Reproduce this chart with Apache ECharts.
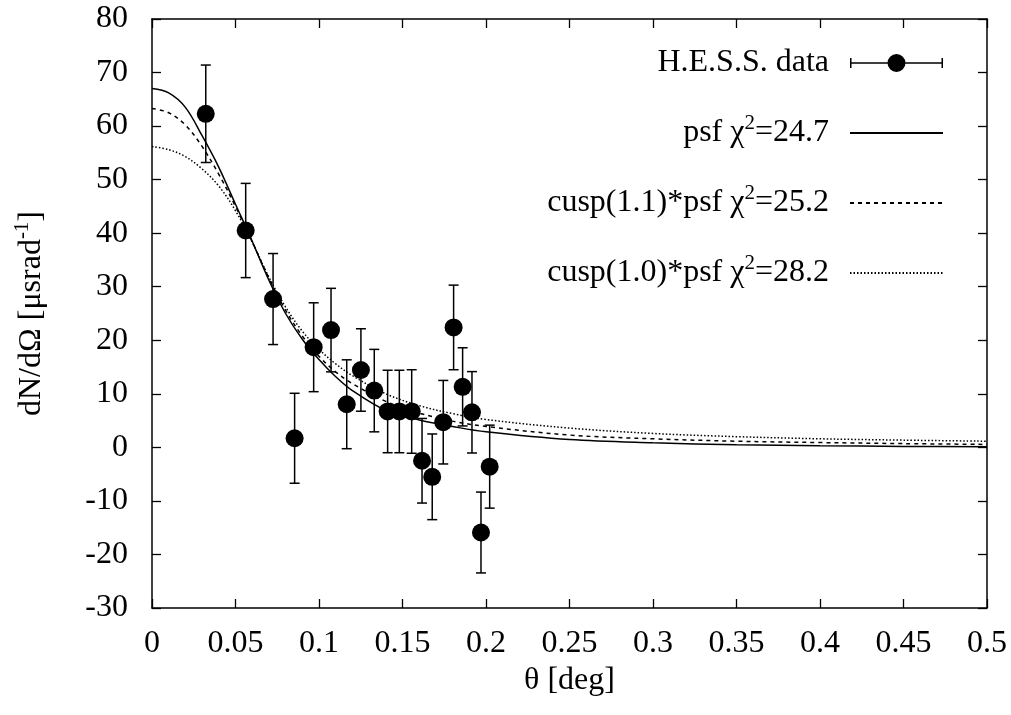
<!DOCTYPE html>
<html>
<head>
<meta charset="utf-8">
<script src="https://cdn.jsdelivr.net/npm/echarts@6/dist/echarts.min.js"></script>
<style>
  html, body { margin: 0; padding: 0; background: #fff; }
  #chart { width: 1011px; height: 715px; }
</style>
</head>
<body>
<div id="chart"></div>
<script>
// ---- data ----
const thetaData = [0.0322, 0.0561, 0.0725, 0.0854, 0.0968, 0.1072, 0.1166, 0.1251, 0.1331, 0.1411,
                   0.1481, 0.1555, 0.1617, 0.1678, 0.1744, 0.1806, 0.1860, 0.1916, 0.1970, 0.2022];
const countData = [62.3, 40.5, 27.7, 1.7, 18.7, 21.9, 8.05, 14.45, 10.6, 6.7,
                   6.7, 6.7, -2.5, -5.5, 4.7, 22.4, 11.3, 6.55, -15.9, -3.6];
const errData   = [9.1, 8.8, 8.5, 8.4, 8.3, 7.8, 8.3, 7.7, 7.7, 7.7,
                   7.7, 7.8, 7.9, 8.0, 7.8, 7.9, 7.3, 7.6, 7.55, 7.75];

const curveTheta = [0, 0.01, 0.02, 0.03, 0.04, 0.05, 0.06, 0.07, 0.08, 0.09, 0.10, 0.11, 0.12,
                    0.14, 0.16, 0.18, 0.20, 0.25, 0.30, 0.35, 0.40, 0.45, 0.50];
const psfCurve    = [67.0, 66.2, 63.5, 58.2, 52.3, 45.4, 38.5, 31.2, 25.0, 20.2, 16.4, 13.2, 10.6,
                     6.9, 5.1, 3.9, 2.9, 1.45, 0.85, 0.5, 0.3, 0.18, 0.1];
const cusp11Curve = [63.3, 62.5, 60.2, 56.2, 51.0, 45.0, 38.4, 31.6, 25.6, 20.8, 17.0, 14.1, 11.9,
                     8.6, 6.4, 4.9, 3.9, 2.3, 1.6, 1.15, 0.9, 0.7, 0.55];
const cusp10Curve = [56.2, 55.6, 54.3, 52.0, 48.8, 44.2, 38.3, 31.8, 26.2, 21.7, 18.3, 15.6, 13.4,
                     10.0, 7.8, 6.3, 5.2, 3.6, 2.6, 2.0, 1.6, 1.35, 1.15];

const seriesNames = ['H.E.S.S. data', 'psf', 'cusp(1.1)*psf', 'cusp(1.0)*psf'];
const chiValues   = [null, '24.7', '25.2', '28.2'];

const xTicks = { min: 0, max: 0.5, interval: 0.05 };
const yTicks = { min: -30, max: 80, interval: 10 };

// ---- build ----
const FONT = 'Liberation Serif';
const BLACK = '#000';
const pointData = thetaData.map((t, i) => [t, countData[i]]);
const errorData = thetaData.map((t, i) => [t, countData[i], errData[i]]);
const zip = (xs, ys) => xs.map((x, i) => [x, ys[i]]);

const chart = echarts.init(document.getElementById('chart'), null, { renderer: 'canvas' });

const axisCommon = {
  type: 'value',
  axisLine: { show: true, onZero: false, lineStyle: { color: BLACK, width: 1.5 } },
  axisTick: { show: true, inside: true, length: 9, lineStyle: { color: BLACK, width: 1.3 } },
  splitLine: { show: false },
};
const labelStyle = { fontFamily: FONT, fontSize: 32, color: BLACK };

const fmt = v => String(+v.toFixed(2));

const option = {
  backgroundColor: '#fff',
  animation: false,
  grid: { left: 152, right: 24, top: 19, bottom: 107, containLabel: false },
  xAxis: [
    Object.assign({}, axisCommon, {
      position: 'bottom', min: xTicks.min, max: xTicks.max, interval: xTicks.interval,
      axisLabel: Object.assign({ margin: 20, formatter: fmt }, labelStyle),
      name: 'θ [deg]', nameLocation: 'middle', nameGap: 56,
      nameTextStyle: { fontFamily: FONT, fontSize: 32, color: BLACK, lineHeight: 32 }
    }),
    Object.assign({}, axisCommon, {
      position: 'top', min: xTicks.min, max: xTicks.max, interval: xTicks.interval,
      axisLabel: { show: false }
    })
  ],
  yAxis: [
    Object.assign({}, axisCommon, {
      position: 'left', min: yTicks.min, max: yTicks.max, interval: yTicks.interval,
      axisLabel: Object.assign({ margin: 24, formatter: fmt }, labelStyle),
      name: 'dN/dΩ [μsrad{s|-1}]', nameLocation: 'middle', nameGap: 100, nameRotate: 90,
      nameTextStyle: {
        fontFamily: FONT, fontSize: 32, color: BLACK, lineHeight: 40,
        rich: { s: { fontFamily: FONT, fontSize: 21, color: BLACK, lineHeight: 16, verticalAlign: 'top' } }
      }
    }),
    Object.assign({}, axisCommon, {
      position: 'right', min: yTicks.min, max: yTicks.max, interval: yTicks.interval,
      axisLabel: { show: false }
    })
  ],
  legend: {
    orient: 'vertical',
    align: 'right',
    right: 67,
    top: 43,
    padding: 0,
    itemWidth: 93,
    itemHeight: 18,
    itemGap: 30,
    selectedMode: false,
    textStyle: {
      fontFamily: FONT, fontSize: 32, color: BLACK, lineHeight: 40, padding: [0, 16, 0, 0],
      rich: { s: { fontFamily: FONT, fontSize: 21, color: BLACK, lineHeight: 16, verticalAlign: 'top' } }
    },
    formatter: function (name) {
      const i = seriesNames.indexOf(name);
      if (chiValues[i] == null) return name;
      return name + ' χ{s|2}=' + chiValues[i];
    },
    data: [
      { name: seriesNames[0],
        itemStyle: { color: BLACK, opacity: 1 },
        icon: 'path://M0,8.25L93,8.25L93,9.75L0,9.75Z M0,4L1.5,4L1.5,14L0,14Z M91.5,4L93,4L93,14L91.5,14Z M37.5,9A9,9 0 1 1 55.5,9A9,9 0 1 1 37.5,9Z' },
      { name: seriesNames[1], itemStyle: { opacity: 0 } },
      { name: seriesNames[2], itemStyle: { opacity: 0 } },
      { name: seriesNames[3], itemStyle: { opacity: 0 } }
    ]
  },
  series: [
    {
      name: seriesNames[0] + ' errors',
      type: 'custom',
      xAxisIndex: 0, yAxisIndex: 0,
      data: errorData,
      z: 3,
      renderItem: function (params, api) {
        const x = api.value(0), y = api.value(1), e = api.value(2);
        const top = api.coord([x, y + e]);
        const bot = api.coord([x, y - e]);
        const cap = 5;
        const style = { stroke: BLACK, lineWidth: 1.5 };
        return {
          type: 'group',
          children: [
            { type: 'line', shape: { x1: top[0], y1: top[1], x2: bot[0], y2: bot[1] }, style },
            { type: 'line', shape: { x1: top[0] - cap, y1: top[1], x2: top[0] + cap, y2: top[1] }, style },
            { type: 'line', shape: { x1: bot[0] - cap, y1: bot[1], x2: bot[0] + cap, y2: bot[1] }, style }
          ]
        };
      }
    },
    {
      name: seriesNames[0],
      type: 'scatter',
      xAxisIndex: 0, yAxisIndex: 0,
      data: pointData,
      symbol: 'circle',
      symbolSize: 18,
      itemStyle: { color: BLACK, opacity: 1 },
      z: 4
    },
    {
      name: seriesNames[1],
      type: 'line',
      data: zip(curveTheta, psfCurve),
      symbol: 'none', smooth: 0.35,
      lineStyle: { color: BLACK, width: 1.5, type: 'solid' },
      itemStyle: { color: BLACK },
      z: 2
    },
    {
      name: seriesNames[2],
      type: 'line',
      data: zip(curveTheta, cusp11Curve),
      symbol: 'none', smooth: 0.35,
      lineStyle: { color: BLACK, width: 1.5, type: [4, 4] },
      itemStyle: { color: BLACK },
      z: 2
    },
    {
      name: seriesNames[3],
      type: 'line',
      data: zip(curveTheta, cusp10Curve),
      symbol: 'none', smooth: 0.35,
      lineStyle: { color: BLACK, width: 1.5, type: [1.5, 2] },
      itemStyle: { color: BLACK },
      z: 2
    }
  ]
};
chart.setOption(option);
</script>
</body>
</html>
